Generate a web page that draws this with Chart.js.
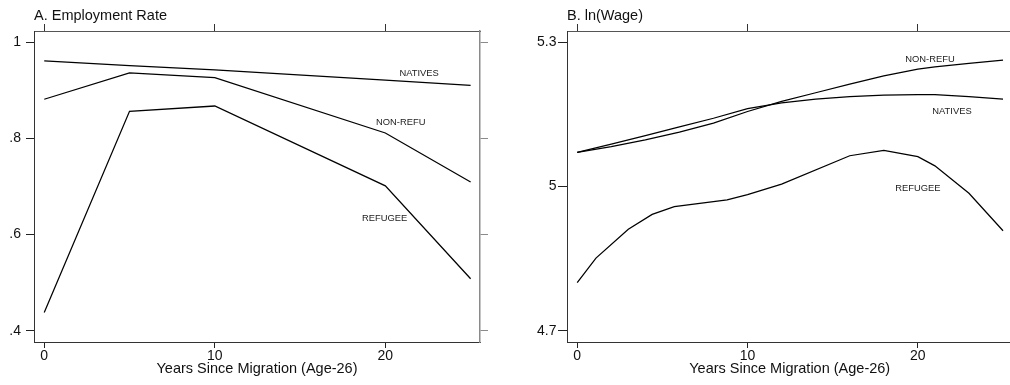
<!DOCTYPE html>
<html>
<head>
<meta charset="utf-8">
<script src="https://cdn.jsdelivr.net/npm/chart.js@4.4.1/dist/chart.umd.min.js"></script>
<style>
  html, body { margin:0; padding:0; background:#fff; overflow:hidden; width:1010px; height:385px; }
  #wa { position:absolute; left:0; top:0; width:505px; height:385px; }
  #wb { position:absolute; left:505px; top:0; width:530px; height:385px; }
</style>
</head>
<body>
<div id="wa"><canvas id="ca" width="505" height="385"></canvas></div>
<div id="wb"><canvas id="cb" width="530" height="385"></canvas></div>
<script>
// ---- Data ----
const seriesNames = ['NATIVES', 'NON-REFU', 'REFUGEE'];
const xTicks = [0, 10, 20];

// Panel A: Employment Rate
const yearsA = [0, 5, 10, 20, 25];
const nativesA = [0.961, 0.951, 0.942, 0.921, 0.910];
const nonRefuA = [0.881, 0.936, 0.926, 0.811, 0.709];
const refugeeA = [0.438, 0.856, 0.867, 0.701, 0.508];
const yTicksA = [0.4, 0.6, 0.8, 1];
const yLabelsA = ['.4', '.6', '.8', '1'];

// Panel B: ln(Wage)
const yearsNatB = [0, 2, 4, 6, 8, 10, 12, 14, 16, 18, 20, 21, 23, 25];
const nativesB  = [5.071, 5.088, 5.106, 5.124, 5.142, 5.162, 5.174, 5.182, 5.187, 5.190, 5.191, 5.191, 5.187, 5.182];
const yearsNonB = [0, 2, 4, 6, 8, 10, 12, 14, 16, 18, 20, 21, 23, 25];
const nonRefuB  = [5.071, 5.083, 5.097, 5.113, 5.132, 5.156, 5.177, 5.195, 5.213, 5.230, 5.244, 5.249, 5.256, 5.263];
const yearsRefB = [0, 1.1, 3, 4.4, 5.7, 8.8, 10, 12, 16, 18, 20, 21, 23, 25];
const refugeeB  = [4.800, 4.851, 4.911, 4.942, 4.958, 4.972, 4.983, 5.005, 5.064, 5.075, 5.062, 5.043, 4.986, 4.908];
const yTicksB = [4.7, 5, 5.3];
const yLabelsB = ['4.7', '5', '5.3'];

// ---- Helpers ----
const FONT = '"Liberation Sans", Arial, Helvetica, sans-serif';
const pts = (xs, ys) => xs.map((x, i) => ({x: x, y: ys[i]}));
const fixTicks = vals => (scale) => { scale.ticks = vals.map(v => ({value: v})); };
const labelFor = (vals, labels) => (v) => {
  let best = 0;
  vals.forEach((t, i) => { if (Math.abs(t - v) < Math.abs(vals[best] - v)) best = i; });
  return labels[best];
};

const seriesLabelPlugin = {
  id: 'seriesLabels',
  afterDatasetsDraw(chart, args, opts) {
    const {ctx} = chart;
    const xs = chart.scales.x, ys = chart.scales.y;
    ctx.save();
    ctx.font = '9.4px ' + FONT;
    ctx.fillStyle = '#222';
    ctx.textAlign = 'center';
    ctx.textBaseline = 'middle';
    (opts.items || []).forEach(it => {
      ctx.fillText(seriesNames[it.s], xs.getPixelForValue(it.x), ys.getPixelForValue(it.y));
    });
    ctx.restore();
  }
};

function makeChart(id, cfg) {
  const line = (data) => ({
    data: data, borderColor: '#000', borderWidth: 1.25, pointRadius: 0,
    tension: 0, fill: false, yAxisID: 'y', xAxisID: 'x'
  });
  return new Chart(document.getElementById(id), {
    type: 'line',
    data: { datasets: cfg.series.map(line) },
    options: {
      responsive: false, animation: false, devicePixelRatio: 1,
      layout: { padding: 0 },
      plugins: {
        legend: { display: false }, tooltip: { enabled: false },
        seriesLabels: { items: cfg.labels }
      },
      scales: {
        x: {
          type: 'linear', position: 'bottom', min: -0.6, max: 25.55,
          afterBuildTicks: fixTicks(xTicks),
          afterFit: s => { s.height = 43; },
          border: { display: true, color: '#333', width: 1 },
          grid: { drawOnChartArea: false, drawTicks: true, tickLength: 6, color: '#222', tickWidth: 1 },
          ticks: { padding: 0, color: '#111', font: { family: FONT, size: 14 }, maxRotation: 0, callback: v => String(v) },
          title: { display: true, text: 'Years Since Migration (Age-26)', color: '#111',
                   font: { family: FONT, size: 14.5 }, padding: { top: 0, bottom: 7.5 } }
        },
        x2: {
          type: 'linear', position: 'top', min: -0.6, max: 25.55,
          afterBuildTicks: fixTicks(xTicks),
          afterFit: s => { s.height = 31; },
          border: { display: true, color: '#555', width: 1 },
          grid: { drawOnChartArea: false, drawTicks: true, tickLength: 7, color: '#333', tickWidth: 1 },
          ticks: { display: false },
          title: { display: true, text: cfg.title, align: 'start', color: '#111',
                   font: { family: FONT, size: 14.5 }, padding: { top: 7.3, bottom: 0 } }
        },
        y: {
          type: 'linear', position: 'left', min: cfg.ymin, max: cfg.ymax,
          afterBuildTicks: fixTicks(cfg.yTicks),
          afterFit: s => { s.width = cfg.leftW; },
          border: { display: true, color: '#333', width: 1 },
          grid: { drawOnChartArea: false, drawTicks: true, tickLength: cfg.tickL, color: '#222', tickWidth: 1 },
          ticks: { padding: cfg.tickPad, color: '#111', font: { family: FONT, size: 14 },
                   callback: labelFor(cfg.yTicks, cfg.yLabels) }
        },
        y2: {
          type: 'linear', position: 'right', min: cfg.ymin, max: cfg.ymax,
          afterBuildTicks: fixTicks(cfg.yTicks),
          afterFit: s => { s.width = cfg.rightW; },
          border: { display: true, color: '#8a8a8a', width: 1.5 },
          grid: { drawOnChartArea: false, drawTicks: true, tickLength: 8, color: '#8a8a8a', tickWidth: 1 },
          ticks: { display: false }
        }
      }
    },
    plugins: [seriesLabelPlugin]
  });
}

makeChart('ca', {
  title: 'A. Employment Rate',
  series: [pts(yearsA, nativesA), pts(yearsA, nonRefuA), pts(yearsA, refugeeA)],
  ymin: 0.3765, ymax: 1.0229, yTicks: yTicksA, yLabels: yLabelsA,
  leftW: 34, rightW: 25, tickL: 8, tickPad: 5,
  labels: [ {s: 0, x: 21.98, y: 0.9355}, {s: 1, x: 20.9, y: 0.8335}, {s: 2, x: 19.96, y: 0.633} ]
});

makeChart('cb', {
  title: 'B. ln(Wage)',
  series: [pts(yearsNatB, nativesB), pts(yearsNonB, nonRefuB), pts(yearsRefB, refugeeB)],
  ymin: 4.6765, ymax: 5.3235, yTicks: yTicksB, yLabels: yLabelsB,
  leftW: 62, rightW: 22.6, tickL: 9, tickPad: 1.5,
  labels: [ {s: 0, x: 22.0, y: 5.157}, {s: 1, x: 20.71, y: 5.2653}, {s: 2, x: 20.0, y: 4.995} ]
});
</script>
</body>
</html>
